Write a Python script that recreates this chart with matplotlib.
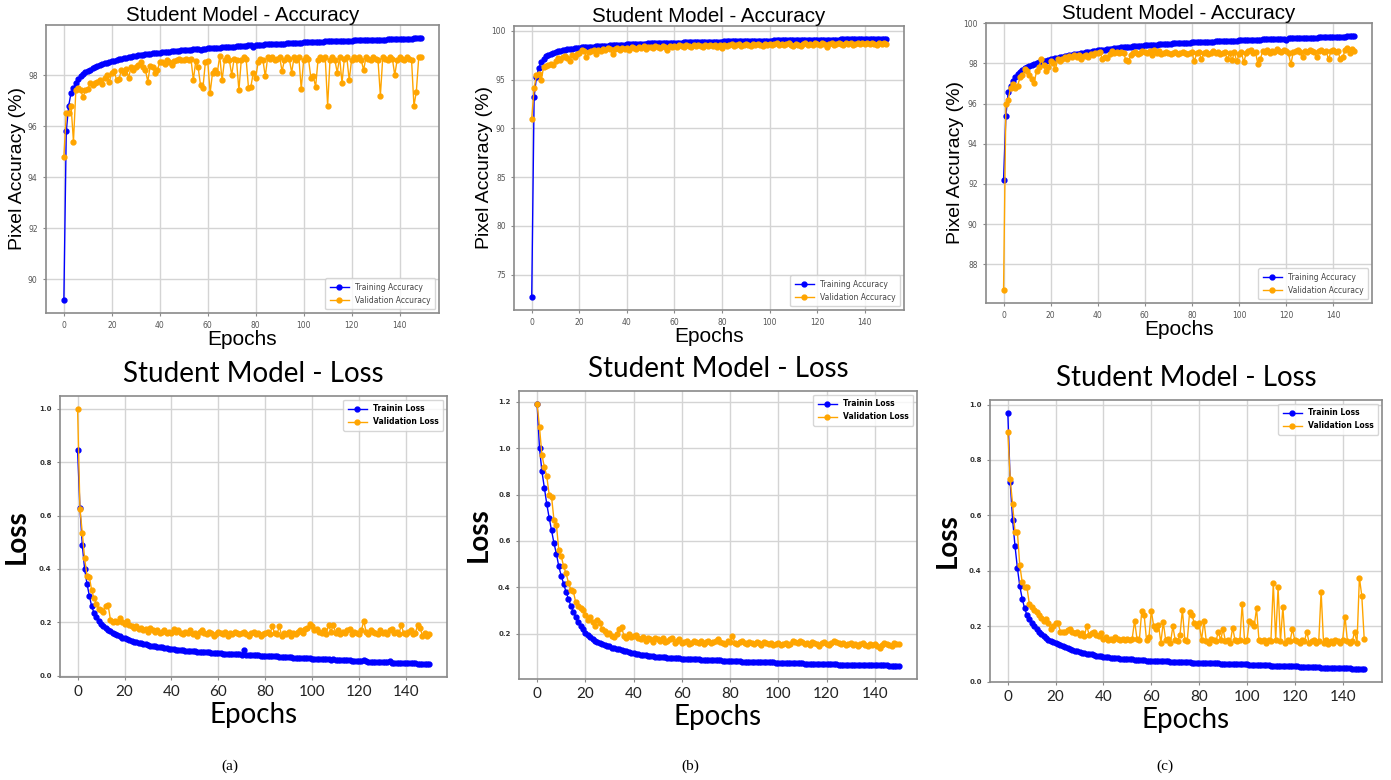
import numpy as np
import matplotlib
matplotlib.use("Agg")
import matplotlib.pyplot as plt

# ---- data ----
acc_train_a = [89.2, 95.8, 96.8, 97.3, 97.5, 97.7, 97.85, 97.95, 98.05, 98.12,
               98.18, 98.22, 98.28, 98.31, 98.35, 98.4, 98.42, 98.46, 98.49, 98.52,
               98.55, 98.57, 98.6, 98.62, 98.64, 98.66, 98.68, 98.7, 98.72, 98.73,
               98.75, 98.77, 98.78, 98.8, 98.81, 98.82, 98.84, 98.85, 98.86, 98.87,
               98.88, 98.89, 98.9, 98.92, 98.92, 98.93, 98.95, 98.95, 98.96, 98.97,
               98.98, 98.99, 99.0, 99.0, 99.01, 99.02, 99.03, 98.99, 99.04, 99.04,
               99.05, 99.06, 99.06, 99.07, 99.08, 99.08, 99.09, 99.1, 99.1, 99.11,
               99.12, 99.12, 99.13, 99.13, 99.14, 99.15, 99.15, 99.16, 99.16, 99.1,
               99.18, 99.18, 99.19, 99.19, 99.2, 99.2, 99.2, 99.21, 99.21, 99.22,
               99.22, 99.23, 99.23, 99.24, 99.24, 99.25, 99.25, 99.26, 99.26, 99.27,
               99.28, 99.28, 99.29, 99.29, 99.3, 99.3, 99.3, 99.31, 99.31, 99.32,
               99.32, 99.32, 99.33, 99.33, 99.33, 99.34, 99.34, 99.34, 99.35, 99.35,
               99.35, 99.36, 99.36, 99.36, 99.36, 99.37, 99.37, 99.37, 99.37, 99.38,
               99.38, 99.38, 99.39, 99.39, 99.39, 99.4, 99.4, 99.4, 99.41, 99.41,
               99.42, 99.42, 99.42, 99.43, 99.43, 99.43, 99.44, 99.44, 99.45, 99.45]
acc_val_a = [94.8, 96.5, 96.5, 96.8, 95.4, 97.4, 97.5, 97.4, 97.15, 97.4,
             97.45, 97.7, 97.6, 97.7, 97.75, 97.8, 97.65, 97.9, 98.0, 97.75,
             98.1, 98.15, 97.8, 97.85, 98.2, 98.1, 98.25, 97.9, 98.3, 98.2,
             98.3, 98.4, 98.5, 98.3, 98.2, 97.75, 98.35, 98.3, 98.1, 98.2,
             98.5, 98.5, 98.45, 98.6, 98.5, 98.4, 98.55, 98.6, 98.65, 98.6,
             98.6, 98.65, 98.6, 98.65, 97.8, 98.55, 98.3, 97.6, 97.5, 98.5,
             98.55, 97.3, 98.1, 98.2, 98.1, 98.75, 97.8, 98.6, 98.7, 98.6,
             98.0, 98.65, 98.6, 97.4, 98.6, 98.7, 98.65, 97.5, 97.55, 98.1,
             97.9, 98.5, 98.65, 98.6, 97.95, 98.7, 98.65, 98.7, 98.6, 98.65,
             98.7, 98.15, 98.6, 98.7, 98.65, 98.1, 98.7, 98.6, 98.7, 97.45,
             98.6, 98.7, 98.65, 97.9, 97.95, 97.55, 98.6, 98.7, 98.65, 98.7,
             96.8, 98.6, 98.7, 98.6, 98.1, 98.7, 97.7, 98.65, 98.7, 97.8,
             98.6, 98.7, 98.65, 98.7, 98.6, 98.2, 98.7, 98.65, 98.6, 98.7,
             98.65, 98.6, 97.2, 98.7, 98.65, 98.6, 98.7, 98.65, 98.0, 98.6,
             98.7, 98.65, 98.6, 98.7, 98.65, 98.6, 96.8, 97.35, 98.7, 98.7]

acc_train_b = [72.7, 93.2, 95.3, 96.2, 96.8, 97.1, 97.4, 97.55, 97.65, 97.75,
               97.85, 97.9, 97.95, 98.0, 98.05, 98.1, 98.12, 98.15, 98.18, 98.2,
               98.25, 98.28, 98.3, 98.32, 98.34, 98.36, 98.38, 98.4, 98.42, 98.43,
               98.45, 98.47, 98.48, 98.5, 98.52, 98.53, 98.55, 98.56, 98.57, 98.58,
               98.6, 98.61, 98.62, 98.63, 98.64, 98.65, 98.66, 98.67, 98.68, 98.69,
               98.7, 98.7, 98.71, 98.72, 98.73, 98.73, 98.74, 98.75, 98.75, 98.76,
               98.77, 98.78, 98.78, 98.79, 98.8, 98.8, 98.81, 98.82, 98.82, 98.83,
               98.84, 98.84, 98.85, 98.85, 98.86, 98.86, 98.87, 98.88, 98.88, 98.89,
               98.89, 98.9, 98.9, 98.91, 98.91, 98.92, 98.92, 98.93, 98.93, 98.94,
               98.94, 98.95, 98.95, 98.95, 98.96, 98.96, 98.97, 98.97, 98.98, 98.98,
               98.99, 98.99, 99.0, 99.0, 99.0, 99.01, 99.01, 99.02, 99.02, 99.02,
               99.03, 99.03, 99.04, 99.04, 99.04, 99.05, 99.05, 99.05, 99.06, 99.06,
               99.06, 99.07, 99.07, 99.07, 99.08, 99.08, 99.08, 99.09, 99.09, 99.09,
               99.1, 99.1, 99.1, 99.11, 99.11, 99.11, 99.12, 99.12, 99.12, 99.13,
               99.13, 99.13, 99.14, 99.14, 99.14, 99.15, 99.15, 99.15, 99.16, 99.16]
acc_val_b = [91.0, 94.1, 95.5, 95.6, 94.9, 96.3, 96.4, 96.5, 96.6, 96.5,
             96.9, 97.2, 97.0, 97.3, 97.4, 97.2, 96.9, 97.5, 97.3, 97.6,
             97.7, 98.0, 97.9, 97.3, 97.8, 97.9, 98.0, 97.6, 98.0, 97.9,
             98.1, 98.0, 98.2, 98.1, 97.6, 98.1, 98.2, 98.0, 98.2, 98.1,
             98.2, 98.0, 98.3, 98.2, 98.1, 98.3, 98.2, 98.4, 98.1, 98.3,
             98.3, 98.2, 98.4, 98.3, 98.2, 98.4, 98.3, 98.0, 98.4, 98.3,
             98.4, 98.3, 98.5, 98.4, 98.3, 98.5, 98.4, 98.3, 98.5, 98.4,
             98.5, 98.4, 98.3, 98.5, 98.4, 98.5, 98.4, 98.5, 98.3, 98.5,
             98.2, 98.5, 98.4, 98.5, 98.6, 98.4, 98.5, 98.6, 98.4, 98.5,
             98.6, 98.5, 98.4, 98.6, 98.5, 98.6, 98.5, 98.4, 98.6, 98.5,
             98.6, 98.5, 98.6, 98.7, 98.5, 98.6, 98.5, 98.6, 98.7, 98.5,
             98.4, 98.6, 98.5, 98.4, 98.6, 98.7, 98.5, 98.6, 98.5, 98.7,
             98.6, 98.5, 98.7, 98.6, 98.3, 98.6, 98.7, 98.5, 98.6, 98.7,
             98.6, 98.5, 98.7, 98.6, 98.7, 98.5, 98.6, 98.7, 98.6, 98.7,
             98.6, 98.7, 98.6, 98.7, 98.6, 98.5, 98.7, 98.6, 98.7, 98.6]

acc_train_c = [92.2, 95.4, 96.6, 96.9, 97.1, 97.3, 97.45, 97.55, 97.65, 97.75,
               97.82, 97.88, 97.93, 97.97, 98.01, 98.05, 98.08, 98.11, 98.14, 98.17,
               98.2, 98.23, 98.25, 98.28, 98.3, 98.33, 98.35, 98.38, 98.4, 98.43,
               98.45, 98.47, 98.49, 98.51, 98.53, 98.55, 98.57, 98.59, 98.61, 98.63,
               98.65, 98.66, 98.68, 98.69, 98.71, 98.72, 98.74, 98.75, 98.77, 98.78,
               98.8, 98.81, 98.82, 98.83, 98.84, 98.85, 98.86, 98.87, 98.88, 98.89,
               98.9, 98.91, 98.92, 98.93, 98.93, 98.94, 98.95, 98.96, 98.97, 98.98,
               98.99, 98.99, 99.0, 99.0, 99.01, 99.02, 99.02, 99.03, 99.04, 99.04,
               99.05, 99.05, 99.06, 99.06, 99.07, 99.07, 99.08, 99.08, 99.09, 99.09,
               99.1, 99.1, 99.11, 99.11, 99.12, 99.12, 99.13, 99.13, 99.14, 99.14,
               99.15, 99.15, 99.16, 99.16, 99.17, 99.17, 99.18, 99.18, 99.19, 99.19,
               99.2, 99.2, 99.21, 99.21, 99.22, 99.22, 99.23, 99.23, 99.24, 99.24,
               99.18, 99.25, 99.25, 99.26, 99.26, 99.27, 99.27, 99.27, 99.28, 99.28,
               99.28, 99.29, 99.29, 99.29, 99.3, 99.3, 99.3, 99.31, 99.31, 99.31,
               99.32, 99.32, 99.32, 99.33, 99.3, 99.34, 99.35, 99.36, 99.37, 99.38]
acc_val_c = [86.7, 96.0, 96.2, 96.8, 97.0, 96.8, 96.9, 97.3, 97.4, 97.7,
             97.6, 97.4, 97.2, 97.05, 97.6, 97.8, 98.2, 97.9, 97.6, 97.8,
             98.1, 98.0, 97.7, 98.2, 98.1, 98.2, 98.3, 98.2, 98.35, 98.3,
             98.4, 98.3, 98.4, 98.2, 98.35, 98.4, 98.3, 98.45, 98.4, 98.5,
             98.5, 98.55, 98.2, 98.3, 98.25, 98.45, 98.6, 98.5, 98.55, 98.5,
             98.55, 98.5, 98.15, 98.1, 98.4, 98.5, 98.55, 98.45, 98.5, 98.6,
             98.55, 98.5, 98.6, 98.4, 98.65, 98.5, 98.6, 98.45, 98.5, 98.55,
             98.5, 98.45, 98.5, 98.55, 98.45, 98.5, 98.55, 98.5, 98.45, 98.5,
             98.55, 98.1, 98.5, 98.55, 98.2, 98.5, 98.55, 98.45, 98.5, 98.6,
             98.5, 98.55, 98.45, 98.5, 98.55, 98.2, 98.5, 98.15, 98.55, 98.1,
             98.45, 98.55, 98.05, 98.5, 98.6, 98.65, 98.5, 98.55, 97.95, 98.2,
             98.6, 98.55, 98.65, 98.5, 98.6, 98.55, 98.7, 98.6, 98.55, 98.65,
             98.6, 98.5, 97.95, 98.55, 98.6, 98.65, 98.55, 98.3, 98.6, 98.55,
             98.65, 98.6, 98.55, 98.3, 98.6, 98.65, 98.55, 98.6, 98.2, 98.6,
             98.65, 98.55, 98.6, 98.2, 98.3, 98.65, 98.75, 98.5, 98.7, 98.6]

loss_train_a = [.845, .63, .49, .40, .345, .30, .26, .235, .22, .205,
                .195, .187, .18, .173, .166, .16, .155, .151, .147, .143,
                .14, .137, .134, .131, .128, .126, .124, .122, .12, .117,
                .115, .113, .112, .11, .109, .107, .106, .104, .103, .101,
                .10, .099, .098, .097, .096, .095, .094, .094, .093, .092,
                .091, .09, .089, .089, .088, .087, .087, .086, .085, .085,
                .084, .084, .083, .083, .082, .082, .081, .081, .08, .08,
                .079, .095, .078, .078, .077, .077, .076, .076, .075, .075,
                .074, .074, .073, .073, .072, .072, .071, .071, .07, .07,
                .069, .069, .068, .068, .067, .067, .066, .066, .065, .065,
                .064, .064, .063, .063, .062, .062, .061, .061, .06, .062,
                .06, .059, .059, .058, .058, .057, .057, .056, .056, .055,
                .055, .054, .058, .054, .053, .053, .052, .052, .051, .051,
                .05, .05, .05, .056, .049, .049, .048, .048, .048, .047,
                .047, .047, .046, .046, .046, .045, .045, .045, .044, .044, .043]
loss_val_a = [1.0, .625, .535, .44, .375, .37, .32, .29, .27, .25,
              .245, .24, .26, .265, .21, .20, .205, .20, .215, .20,
              .195, .205, .19, .185, .18, .185, .175, .18, .17, .175,
              .165, .18, .17, .165, .17, .16, .165, .17, .16, .165,
              .16, .175, .165, .17, .16, .155, .165, .16, .17, .155,
              .16, .15, .165, .17, .16, .155, .165, .16, .15, .155,
              .165, .16, .155, .165, .15, .16, .155, .165, .16, .155,
              .16, .165, .155, .15, .16, .165, .155, .16, .15, .155,
              .16, .165, .155, .185, .16, .155, .185, .15, .16, .155,
              .165, .15, .16, .155, .165, .17, .16, .175, .18, .195,
              .185, .17, .175, .165, .16, .17, .155, .19, .165, .19,
              .16, .17, .155, .165, .16, .17, .175, .155, .165, .16,
              .155, .17, .205, .165, .155, .17, .165, .16, .155, .17,
              .16, .165, .155, .17, .175, .16, .165, .155, .19, .16,
              .155, .165, .17, .155, .16, .19, .18, .15, .16, .15, .155]

loss_train_b = [1.19, 1.0, .90, .83, .76, .70, .645, .59, .545, .49,
                .45, .415, .38, .35, .32, .295, .27, .25, .235, .22,
                .205, .195, .185, .175, .17, .165, .16, .155, .15, .147,
                .145, .14, .138, .135, .132, .13, .127, .125, .12, .118,
                .115, .113, .111, .109, .108, .106, .105, .104, .102, .101,
                .10, .099, .099, .098, .097, .096, .096, .095, .094, .093,
                .092, .092, .091, .091, .09, .09, .089, .089, .088, .088,
                .088, .087, .087, .086, .086, .085, .085, .084, .084, .083,
                .082, .082, .081, .081, .081, .08, .08, .08, .079, .079,
                .078, .078, .078, .077, .077, .077, .076, .076, .076, .075,
                .075, .075, .074, .074, .074, .073, .073, .073, .072, .072,
                .072, .071, .071, .071, .07, .07, .07, .07, .069, .069,
                .069, .068, .068, .068, .068, .067, .067, .067, .067, .066,
                .066, .066, .066, .065, .065, .065, .065, .064, .064, .064,
                .064, .067, .063, .063, .063, .063, .062, .062, .062, .062, .061]
loss_val_b = [1.19, 1.09, .97, .92, .88, .80, .79, .69, .67, .56,
              .535, .49, .46, .42, .39, .385, .335, .32, .31, .30,
              .28, .26, .27, .25, .235, .26, .245, .22, .21, .20,
              .205, .19, .185, .20, .22, .23, .19, .18, .20, .185,
              .19, .195, .18, .175, .185, .17, .18, .175, .165, .18,
              .175, .17, .18, .165, .17, .175, .18, .16, .17, .175,
              .16, .165, .17, .155, .16, .17, .165, .16, .17, .155,
              .165, .17, .16, .165, .17, .175, .165, .16, .155, .17,
              .165, .19, .16, .155, .165, .17, .16, .155, .165, .16,
              .155, .165, .16, .15, .165, .16, .155, .16, .15, .155,
              .16, .15, .155, .16, .15, .155, .17, .165, .16, .17,
              .165, .155, .16, .15, .165, .16, .155, .145, .16, .165,
              .155, .15, .16, .17, .165, .16, .155, .16, .15, .155,
              .16, .15, .155, .145, .155, .16, .15, .145, .155, .15,
              .155, .145, .14, .15, .16, .155, .15, .145, .16, .155, .155]

loss_train_c = [.97, .72, .585, .49, .41, .345, .30, .265, .24, .225,
                .21, .20, .19, .18, .172, .165, .158, .152, .147, .143,
                .139, .135, .131, .127, .124, .121, .118, .115, .112, .11,
                .107, .105, .103, .101, .099, .098, .096, .094, .093, .092,
                .09, .089, .088, .087, .086, .085, .084, .083, .083, .082,
                .081, .08, .08, .079, .078, .078, .077, .077, .076, .076,
                .075, .075, .074, .074, .074, .073, .073, .073, .072, .072,
                .072, .071, .071, .071, .07, .07, .07, .069, .069, .069,
                .068, .068, .068, .067, .067, .067, .066, .066, .066, .065,
                .065, .065, .064, .064, .064, .063, .063, .063, .062, .062,
                .062, .061, .061, .061, .06, .06, .06, .059, .059, .059,
                .058, .058, .058, .057, .057, .057, .056, .056, .056, .055,
                .055, .055, .054, .054, .054, .053, .053, .053, .052, .052,
                .052, .051, .051, .051, .05, .05, .05, .05, .049, .049,
                .049, .048, .048, .048, .047, .047, .047, .046, .046, .045]
loss_val_c = [.90, .73, .64, .54, .54, .42, .36, .34, .34, .28,
              .27, .26, .25, .24, .23, .22, .225, .21, .19, .20,
              .21, .21, .18, .18, .18, .185, .19, .18, .175, .18,
              .17, .175, .165, .20, .17, .175, .18, .17, .165, .175,
              .155, .16, .15, .155, .15, .16, .155, .15, .155, .15,
              .155, .15, .155, .22, .155, .15, .255, .24, .15, .16,
              .255, .20, .19, .205, .14, .215, .15, .155, .14, .20,
              .15, .145, .17, .26, .15, .145, .25, .24, .21, .20,
              .21, .15, .22, .145, .14, .155, .15, .145, .18, .15,
              .19, .145, .15, .14, .195, .15, .145, .15, .28, .145,
              .15, .22, .21, .20, .265, .15, .145, .15, .14, .15,
              .145, .355, .15, .34, .145, .27, .14, .15, .145, .19,
              .15, .145, .14, .15, .145, .18, .14, .145, .15, .14,
              .145, .325, .14, .15, .135, .145, .14, .15, .145, .14,
              .15, .235, .145, .14, .145, .18, .14, .375, .31, .155]

acc_panels = [(acc_train_a, acc_val_a), (acc_train_b, acc_val_b), (acc_train_c, acc_val_c)]
loss_panels = [(loss_train_a, loss_val_a), (loss_train_b, loss_val_b), (loss_train_c, loss_val_c)]
captions = ["(a)", "(b)", "(c)"]

W, H = 1391, 780
fig = plt.figure(figsize=(W / 100, H / 100), dpi=100)


def box(l, t, r, b):
    return [l / W, 1 - b / H, (r - l) / W, (b - t) / H]


top_boxes = [box(46, 25, 439, 313), box(514, 26, 904, 310), box(986, 23, 1372, 303)]
bot_boxes = [box(60, 396, 447, 677), box(519, 391, 917, 679), box(990, 400, 1382, 682)]
# right edge (pixels) of the rotated y labels
ylab_x = [26, 493, 964]
loss_ylab_x = [30, 492, 961]
cap_x = [230, 690, 1165]

BLUE = "#0000ff"
ORANGE = "#ffa500"
SPINE = "#8a8a8a"
GRID = "#d4d4d4"
CAL = ["Lato", "DejaVu Sans"]

for i, (tr, va) in enumerate(acc_panels):
    ax = fig.add_axes(top_boxes[i])
    ax.plot(np.arange(len(tr)), tr, "-o", color=BLUE, ms=3.5, lw=1, label="Training Accuracy")
    ax.plot(np.arange(len(va)), va, "-o", color=ORANGE, ms=3.5, lw=1, label="Validation Accuracy")
    ax.set_xticks(range(0, 141, 20))
    ax.grid(True, color=GRID, lw=1)
    ax.tick_params(labelsize=5.5, labelcolor="#555555", color=SPINE, length=2.5)
    for s in ax.spines.values():
        s.set_color(SPINE)
        s.set_linewidth(1.2)
    ax.set_title("Student Model - Accuracy", fontsize=14.8, family="Liberation Sans", pad=3)
    ax.set_xlabel("Epochs", fontsize=15, family="Liberation Sans", labelpad=0)
    ax.set_ylabel("Pixel Accuracy (%)", fontsize=14, family="Liberation Sans")
    ax.yaxis.set_label_coords((ylab_x[i] - top_boxes[i][0] * W) / (top_boxes[i][2] * W), 0.5)
    ax.legend(loc="lower right", fontsize=5.5, labelcolor="#444444", borderpad=0.6,
              handlelength=2.5)

for i, (tr, va) in enumerate(loss_panels):
    ax = fig.add_axes(bot_boxes[i])
    ax.plot(np.arange(len(tr)), tr, "-o", color=BLUE, ms=3.5, lw=1, label="Trainin Loss")
    ax.plot(np.arange(len(va)), va, "-o", color=ORANGE, ms=3.5, lw=1, label="Validation Loss")
    ax.set_xticks(range(0, 141, 20))
    ax.grid(True, color=GRID, lw=1)
    ax.tick_params(axis="x", labelsize=11, labelcolor="#222222", color=SPINE, length=2.5)
    ax.tick_params(axis="y", labelsize=5, labelcolor="#333333", color=SPINE, length=2.5)
    for lab in ax.get_xticklabels():
        lab.set_family(CAL)
    for lab in ax.get_yticklabels():
        lab.set_fontweight("bold")
    for s in ax.spines.values():
        s.set_color(SPINE)
        s.set_linewidth(1.2)
    ax.set_title("Student Model - Loss", fontsize=20, family=CAL, pad=10)
    ax.set_xlabel("Epochs", fontsize=20, family=CAL, labelpad=2)
    ax.set_ylabel("Loss", fontsize=20, family=CAL, fontweight="bold")
    ax.yaxis.set_label_coords((loss_ylab_x[i] - bot_boxes[i][0] * W) / (bot_boxes[i][2] * W), 0.5)
    ax.legend(loc="upper right", prop={"size": 5.5, "weight": "bold"}, borderpad=0.6,
              handlelength=2.5)

for i, c in enumerate(captions):
    fig.text(cap_x[i] / W, 1 - 766 / H, c, ha="center", va="center",
             fontsize=11, family="Liberation Serif")

fig.savefig("out.png", dpi=100)
